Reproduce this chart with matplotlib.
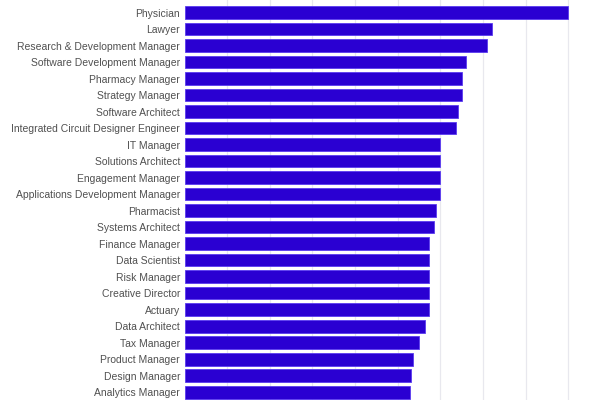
import matplotlib
matplotlib.use("Agg")
import matplotlib.pyplot as plt

jobs = ["Physician", "Lawyer", "Research & Development Manager", "Software Development Manager",
        "Pharmacy Manager", "Strategy Manager", "Software Architect",
        "Integrated Circuit Designer Engineer", "IT Manager", "Solutions Architect",
        "Engagement Manager", "Applications Development Manager", "Pharmacist",
        "Systems Architect", "Finance Manager", "Data Scientist", "Risk Manager",
        "Creative Director", "Actuary", "Data Architect", "Tax Manager",
        "Product Manager", "Design Manager", "Analytics Manager"]
salaries = [180000, 144400, 142000, 131900, 130000, 130000, 128100, 127500, 120000, 120000,
            120000, 120000, 118000, 116900, 114800, 114800, 114800, 114800, 114800, 113000,
            110000, 107000, 106400, 105900]
grid_ticks = [20000, 40000, 60000, 80000, 100000, 120000, 140000, 160000, 180000]

fig = plt.figure(figsize=(6, 4), dpi=100)
ax = fig.add_axes([0.3075, 0.0, 0.6925, 1.0])
pos = list(range(len(jobs)))
ax.barh(pos, salaries, height=0.78, color="#2a00d2", edgecolor="#5a3cf0", linewidth=0.6, zorder=2)
ax.set_xlim(0, 180000 * 415.5 / 383.8)
ax.set_ylim(23.48, -0.758)
ax.set_yticks(pos)
ax.set_yticklabels(jobs, fontsize=7.5, color="#505050", family="Liberation Sans")
ax.set_xticks(grid_ticks)
ax.tick_params(axis="x", length=0, labelbottom=False)
ax.tick_params(axis="y", length=0, pad=3.2)
ax.grid(axis="x", color="#e8e8ee", linewidth=0.9, zorder=0)
ax.set_axisbelow(True)
for s in ax.spines.values():
    s.set_visible(False)
fig.savefig("out.png", dpi=100)
